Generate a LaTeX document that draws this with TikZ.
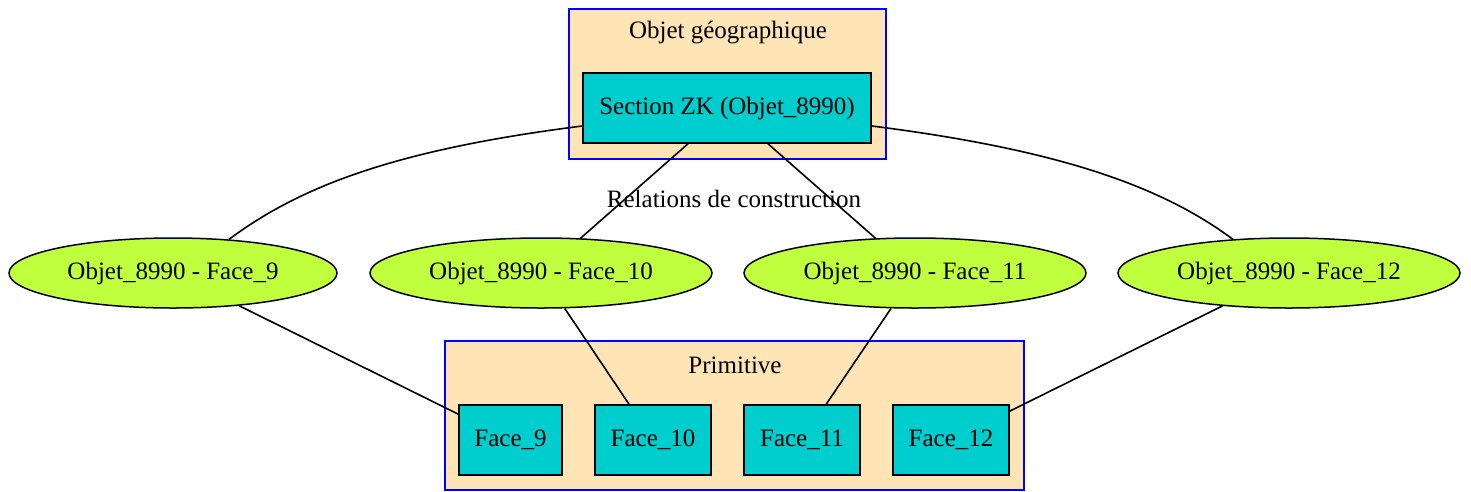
\documentclass[tikz,border=0pt]{standalone}
\usepackage{fontspec}
\setmainfont{Liberation Serif}
\usetikzlibrary{shapes.geometric}
\definecolor{boxcyan}{HTML}{00CDCD}
\definecolor{facegreen}{HTML}{C0FF3E}
\definecolor{clusterfill}{HTML}{FFE4B5}
\begin{document}
\begin{tikzpicture}[
   x=1pt, y=-1pt,
   every node/.style={font=\fontsize{25}{30}\selectfont, inner sep=0pt},
   cluster/.style={draw=blue, fill=clusterfill, line width=1.5pt},
   obj/.style={draw, fill=boxcyan, line width=1.5pt, minimum height=70pt},
   rel/.style={draw, ellipse, fill=facegreen, line width=1.5pt, minimum height=70pt, minimum width=342pt},
   link/.style={line width=1.6pt}]

\useasboundingbox (0,0) rectangle (1471,491);

% clusters
\node[cluster, minimum width=317pt, minimum height=150pt] (geo) at (727.5,84) {};
\node at (728,33) {Objet géographique};
\node[cluster, minimum width=579pt, minimum height=149pt] (prim) at (734.5,415.5) {};
\node at (735,365) {Primitive};

\node[obj, minimum width=288pt] (sec) at (727,108) {Section ZK (Objet\_8990)};

\node (relations) at (734,199) {Relations de construction};

\node[rel, minimum width=328pt] (e9) at (173,273) {Objet\_8990 - Face\_9};
\node[rel] (e10) at (541,273) {Objet\_8990 - Face\_10};
\node[rel] (e11) at (915,273) {Objet\_8990 - Face\_11};
\node[rel] (e12) at (1289,273) {Objet\_8990 - Face\_12};

\node[obj, minimum width=103pt] (f9) at (510.5,440) {Face\_9};
\node[obj, minimum width=116pt] (f10) at (653,440) {Face\_10};
\node[obj, minimum width=116pt] (f11) at (802,440) {Face\_11};
\node[obj, minimum width=116pt] (f12) at (951,440) {Face\_12};

% edges
\draw[link] ([yshift=-18pt]sec.west) .. controls +(-190,24) and +(70,-52) .. (e9.31);
\draw[link] ([yshift=-18pt]sec.east) .. controls +(190,24) and +(-70,-52) .. (e12.149);
\draw[link] ([xshift=-39pt]sec.south) -- (e10);
\draw[link] ([xshift=41pt]sec.south) -- (e11);
\draw[link] (e9) -- (f9);
\draw[link] (e10) -- (f10);
\draw[link] (e11) -- (f11);
\draw[link] (e12) -- (f12);

\end{tikzpicture}
\end{document}
